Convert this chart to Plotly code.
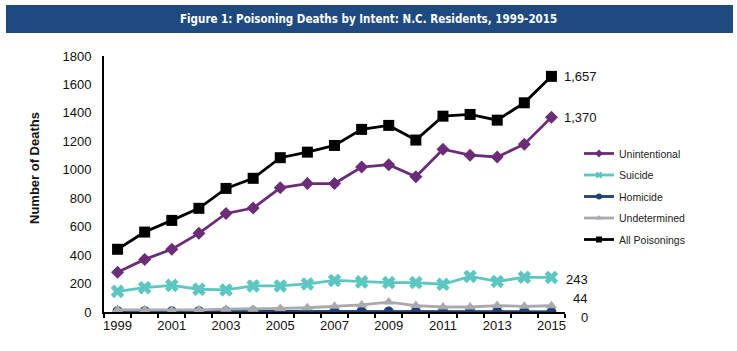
import plotly.graph_objects as go

years = list(range(1999, 2016))
unintentional = [280, 370, 441, 553, 693, 731, 873, 903, 903, 1019, 1036, 951, 1145, 1103, 1090, 1180, 1370]
suicide = [145, 171, 187, 160, 155, 183, 183, 197, 222, 212, 207, 207, 195, 250, 215, 244, 243]
homicide = [6, 6, 5, 6, 5, 5, 5, 4, 4, 5, 4, 3, 4, 4, 4, 3, 0]
undetermined = [15, 15, 10, 15, 20, 20, 25, 30, 40, 50, 70, 45, 35, 35, 45, 40, 44]
all_poisonings = [441, 562, 644, 729, 869, 940, 1085, 1124, 1171, 1284, 1312, 1209, 1377, 1389, 1349, 1471, 1657]

series = [
    ("Unintentional", unintentional, "#6B2C78", "diamond", 10),
    ("Suicide", suicide, "#5CC6C1", "x", 12),
    ("Homicide", homicide, "#1E3F78", "circle", 10),
    ("Undetermined", undetermined, "#A9A9AE", "triangle-up", 10),
    ("All Poisonings", all_poisonings, "#000000", "square", 11),
]

fig = go.Figure()
for name, vals, color, sym, size in series:
    fig.add_trace(go.Scatter(
        x=years, y=vals, name=name, mode="lines+markers", legendgroup=name,
        showlegend=False,
        line=dict(color=color, width=2.8),
        marker=dict(color=color, symbol=sym, size=size),
    ))
# legend entries with smaller symbols, as in the reference
for name, vals, color, sym, size in series:
    fig.add_trace(go.Scatter(
        x=[None], y=[None], name=name, mode="lines+markers", legendgroup=name,
        line=dict(color=color, width=2.8),
        marker=dict(color=color, symbol=sym, size=6),
    ))

labels = [
    (all_poisonings, 11, 0), (unintentional, 11, 0), (suicide, 13, -2),
    (undetermined, 20, 7), (homicide, 28, -5),
]
for vals, xs, ys in labels:
    fig.add_annotation(x=years[-1], y=vals[-1], text=f"{vals[-1]:,}", showarrow=False,
                       xanchor="left", xshift=xs, yshift=ys,
                       font=dict(family="Liberation Sans, Arial", size=13, color="#111"))

L, R, T, B = 104, 565, 56, 312
W, H = 737, 351
pw, ph = R - L, B - T
def px(x):
    return (x - L) / pw
def py(y):
    return (B - y) / ph

fig.add_shape(type="rect", xref="paper", yref="paper",
              x0=px(6), x1=px(733), y0=py(33), y1=py(5),
              fillcolor="#1F4A80", line=dict(width=0), layer="below")
fig.add_annotation(xref="paper", yref="paper", x=px(368), y=py(19),
                   text="<b>Figure 1: Poisoning Deaths by Intent: N.C. Residents, 1999-2015</b>",
                   showarrow=False, xanchor="center", yanchor="middle",
                   font=dict(family="DejaVu Sans Condensed, DejaVu Sans", size=11.5, color="white"))
fig.add_annotation(xref="paper", yref="paper", x=px(34), y=py(168),
                   text="<b>Number of Deaths</b>", textangle=-90,
                   showarrow=False, xanchor="center", yanchor="middle",
                   font=dict(family="Liberation Sans, Arial", size=13, color="#111"))

fig.update_layout(
    width=W, height=H,
    margin=dict(l=L, r=W - R, t=T, b=H - B),
    paper_bgcolor="white", plot_bgcolor="white",
    font=dict(family="Liberation Sans, Arial", size=13, color="#111"),
    showlegend=True,
    legend=dict(x=px(579), y=py(139), xanchor="left", yanchor="top",
                font=dict(size=10.5, color="#222"), bgcolor="rgba(0,0,0,0)",
                tracegroupgap=2.5, itemsizing="trace"),
    xaxis=dict(range=[1998.5, 2015.5], tickmode="linear", tick0=1999, dtick=2,
               showgrid=False, zeroline=False, showline=True, linecolor="#000", linewidth=2,
               ticks="", ticklen=0,
               minor=dict(tick0=1998.5, dtick=1, ticks="outside", ticklen=4, tickcolor="#000", tickwidth=1.5),
               tickfont=dict(size=13)),
    yaxis=dict(range=[0, 1800], tickmode="linear", tick0=0, dtick=200,
               showgrid=False, zeroline=False, showline=True, linecolor="#000", linewidth=2,
               ticks="", ticklabelstandoff=8,
               tickfont=dict(size=13)),
)

fig.write_html("out.html")
